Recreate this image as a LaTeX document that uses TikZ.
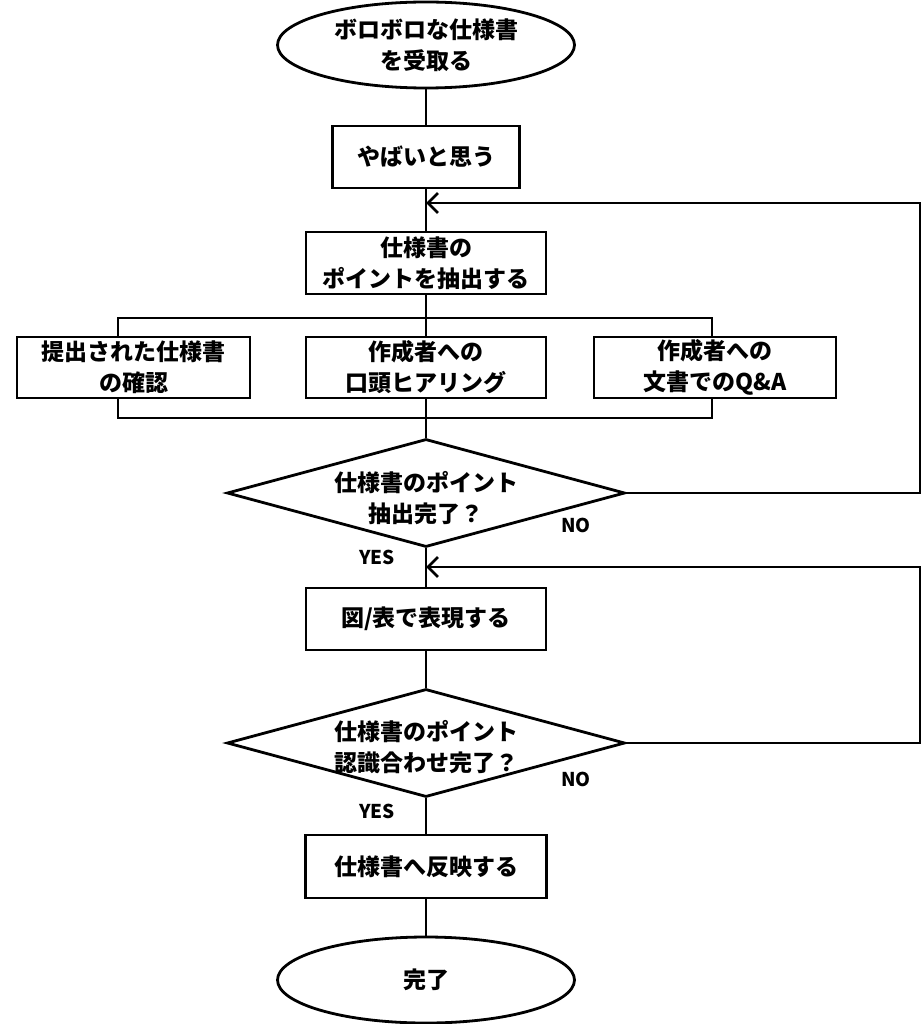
\documentclass[tikz,border=0pt]{standalone}
\usepackage{fontspec}
\setmainfont{Noto Sans CJK JP}
\usetikzlibrary{shapes.geometric,arrows.meta}
\tikzset{
  txt/.style={inner sep=0pt, align=center, font=\fontsize{23pt}{31pt}\selectfont\bfseries},
  base/.style={txt, draw=black, line width=2.8pt},
  term/.style={base, ellipse, minimum width=297pt, minimum height=86pt},
  proc/.style={base, rectangle, minimum height=62pt},
  decide/.style={base, diamond, aspect=3.7, minimum width=398pt, minimum height=108pt},
  conn/.style={line width=2.8pt, draw=black},
  back/.style={conn, -{Straight Barb[length=10pt,width=20pt,line width=2.8pt]}},
  lbl/.style={font=\fontsize{19pt}{22pt}\selectfont\bfseries, inner sep=0pt}
}
\begin{document}
\begin{tikzpicture}[x=1pt,y=-1pt]
\useasboundingbox[fill=white] (0,0) rectangle (923,1024);

\node[term] (start) at (426,45) {ボロボロな仕様書\\を受取る};
\node[proc, minimum width=187pt] (b1) at (426,157) {やばいと思う};
\node[proc, minimum width=240pt] (b2) at (426,263) {仕様書の\\ポイントを抽出する};
\node[proc, minimum width=233pt, minimum height=61pt] (bA) at (133.5,367.5) {提出された仕様書\\の確認};
\node[proc, minimum width=240pt, minimum height=61pt] (bB) at (426,367.5) {作成者への\\口頭ヒアリング};
\node[proc, minimum width=242pt, minimum height=61pt] (bC) at (715,367.5) {作成者への\\文書でのQ\&A};
\node[decide, label={[txt, yshift=-5pt]center:仕様書のポイント\\抽出完了？}] (d1) at (426,493) {};
\node[proc, minimum width=240pt] (b3) at (426,619) {図/表で表現する};
\node[decide, label={[txt, yshift=-4pt]center:仕様書のポイント\\認識合わせ完了？}] (d2) at (426,743) {};
\node[proc, minimum width=241pt, minimum height=63pt] (b4) at (426,866.5) {仕様書へ反映する};
\node[term] (end) at (426,980) {完了};

\node[lbl] (no1) at (576,525) {NO};
\node[lbl] (yes1) at (377,557) {YES};
\node[lbl] (no2) at (576,779) {NO};
\node[lbl] (yes2) at (377,811) {YES};

\coordinate (m1) at (426,203);
\coordinate (r1) at (920,203);
\coordinate (m2) at (426,567);
\coordinate (r2) at (920,567);
\coordinate (sp) at (426,318);
\coordinate (spL) at (118,318);
\coordinate (spR) at (712,318);
\coordinate (mg) at (426,418);
\coordinate (mgL) at (118,418);
\coordinate (mgR) at (712,418);

\draw[conn] (start) -- (b1);
\draw[conn] (b1) -- (b2);
\draw[conn] (b2) -- (sp);
\draw[conn, line cap=rect] (spL) -- (spR);
\draw[conn] (spL) -- (spL |- bA.north);
\draw[conn] (sp) -- (bB);
\draw[conn] (spR) -- (spR |- bC.north);
\draw[conn] (mgL |- bA.south) -- (mgL);
\draw[conn] (bB) -- (mg);
\draw[conn] (mgR |- bC.south) -- (mgR);
\draw[conn, line cap=rect] (mgL) -- (mgR);
\draw[conn] (mg) -- (d1);
\draw[conn] (d1) -- (b3);
\draw[conn] (b3) -- (d2);
\draw[conn] (d2) -- (b4);
\draw[conn] (b4) -- (end);
\draw[back, line join=miter] (d1.east) -| (r1) -- (m1);
\draw[back, line join=miter] (d2.east) -| (r2) -- (m2);
\end{tikzpicture}
\end{document}
